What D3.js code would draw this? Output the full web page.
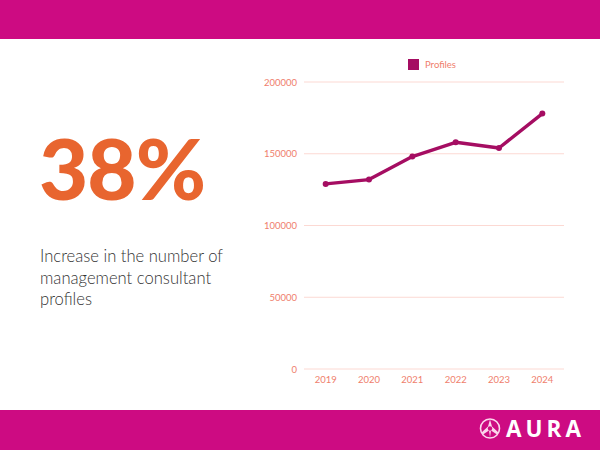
<!DOCTYPE html>
<html><head><meta charset="utf-8">
<script src="https://cdn.jsdelivr.net/npm/d3@7"></script>
<style>html,body{margin:0;padding:0;background:#fff;}svg{display:block;}</style>
</head><body>
<svg id="c" width="600" height="450"></svg>
<script>
const years = ["2019","2020","2021","2022","2023","2024"];
const profiles = [129000, 132000, 148000, 158000, 154000, 178000];
const yTicks = [0, 50000, 100000, 150000, 200000];
const seriesName = "Profiles";
const bigStat = "38%";
const captionLines = ["Increase in the number of","management consultant","profiles"];

const svg = d3.select("#c");
const magenta = "#cd0b82", lineCol = "#a50d62", salmon = "#ef7e6c", grid = "#fcd9d3";

svg.append("rect").attr("x",0).attr("y",0).attr("width",600).attr("height",39).attr("fill",magenta);
svg.append("rect").attr("x",0).attr("y",410).attr("width",600).attr("height",40).attr("fill",magenta);

svg.append("text").attr("x",39).attr("y",200).text(bigStat)
  .attr("font-family","Lato, sans-serif").attr("font-weight",900)
  .attr("font-size",84).attr("fill","#e8652f").attr("letter-spacing",-1)
  .attr("textLength",166).attr("lengthAdjust","spacingAndGlyphs");

const cap = svg.append("g").attr("font-family","Lato, sans-serif").attr("font-weight",300)
  .attr("font-size",16.6).attr("fill","#333");
captionLines.forEach((t,i)=>cap.append("text").attr("x",40).attr("y",262+i*21.5).text(t));

const x = d3.scaleBand().domain(years).range([304,564]);
const y = d3.scaleLinear().domain([0,200000]).range([369,82]);

const g = svg.append("g");
g.selectAll("line.grid").data(yTicks).join("line").attr("class","grid")
  .attr("x1",304).attr("x2",564).attr("y1",d=>y(d)).attr("y2",d=>y(d))
  .attr("stroke",grid).attr("stroke-width",1);

const yAxis = g.append("g").attr("transform","translate(304,0)")
  .call(d3.axisLeft(y).tickValues(yTicks).tickSize(0).tickPadding(7).tickFormat(d3.format("d")));
yAxis.select(".domain").remove();
yAxis.selectAll("text").attr("fill",salmon).attr("font-family","Lato, sans-serif").attr("font-size",9.5);

const xAxis = g.append("g").attr("transform","translate(0,369)")
  .call(d3.axisBottom(x).tickSize(0).tickPadding(7));
xAxis.select(".domain").remove();
xAxis.selectAll("text").attr("fill",salmon).attr("font-family","Lato, sans-serif").attr("font-size",9.5);

const cx = d => x(d) + x.bandwidth()/2;
g.append("path").datum(profiles.map((v,i)=>[years[i],v]))
  .attr("d", d3.line().x(d=>cx(d[0])).y(d=>y(d[1])))
  .attr("fill","none").attr("stroke",lineCol).attr("stroke-width",3.4).attr("stroke-linejoin","round");
g.selectAll("circle.pt").data(profiles).join("circle").attr("class","pt")
  .attr("cx",(d,i)=>cx(years[i])).attr("cy",d=>y(d)).attr("r",3).attr("fill",lineCol);

// legend
svg.append("rect").attr("x",408).attr("y",59).attr("width",11).attr("height",11).attr("fill",lineCol);
svg.append("text").attr("x",425).attr("y",68).text(seriesName).attr("fill",salmon)
  .attr("font-family","Lato, sans-serif").attr("font-size",9.5);

// logo
const logo = svg.append("g").attr("transform","translate(490,428.5)");
logo.append("circle").attr("r",9.5).attr("fill","none").attr("stroke","#fbd7ec").attr("stroke-width",1.6);
logo.append("path").attr("d","M0,-9 L-2,-2 L-8.5,4 L-7,6 L-1,2 L0,9 L1,2 L7,6 L8.5,4 L2,-2 Z")
  .attr("fill","#fbd7ec");
logo.append("circle").attr("r",2.2).attr("fill",magenta);
svg.append("text").attr("x",506).attr("y",436.5).text("AURA").attr("fill","#fff")
  .attr("font-family","Open Sans, sans-serif").attr("font-weight",700).attr("font-size",22.5)
  .attr("letter-spacing",4);
</script>
</body></html>
